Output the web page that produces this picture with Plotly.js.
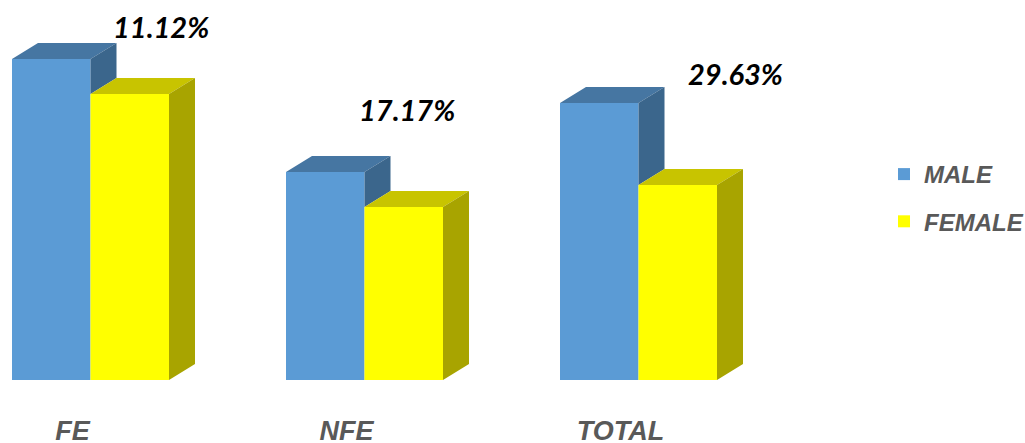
<!DOCTYPE html>
<html><head><meta charset="utf-8">
<script src="https://cdn.plot.ly/plotly-3.0.1.min.js"></script>
<style>html,body{margin:0;padding:0;background:#fff;overflow:hidden}</style>
</head><body><div id="chart" style="width:1025px;height:443px"></div>
<script>
const categories = ["FE", "NFE", "TOTAL"];
const maleValues = [32.1, 20.8, 27.7];
const femaleValues = [28.6, 17.3, 19.5];
const gapLabels = ["11.12%", "17.17%", "29.63%"];

const W = 1025, H = 443, BASE = 380, STEP = 274, ORIGIN = 90.5;
const unitX = 1 / STEP, unitY = 0.1;
const dx = 26 * unitX, dy = 16 * unitY, bw = 78.5 * unitX;
const idx = categories.map((_, i) => i);

function poly(pts, color) {
  return {type: "scatter", mode: "lines", x: pts.map(p => p[0]), y: pts.map(p => p[1]),
    fill: "toself", fillcolor: color, line: {width: 0, color: color},
    hoverinfo: "skip", showlegend: false, cliponaxis: false};
}
const faces = [];
idx.forEach(i => {
  const m = maleValues[i], f = femaleValues[i];
  faces.push(poly([[i - bw, m], [i, m], [i + dx, m + dy], [i - bw + dx, m + dy], [i - bw, m]], "#4676A2"));
  faces.push(poly([[i, m], [i + dx, m + dy], [i + dx, f + dy], [i, f], [i, m]], "#3B668C"));
  faces.push(poly([[i, f], [i + bw, f], [i + bw + dx, f + dy], [i + dx, f + dy], [i, f]], "#C8C400"));
  faces.push(poly([[i + bw, f], [i + bw + dx, f + dy], [i + bw + dx, dy], [i + bw, 0], [i + bw, f]], "#A8A400"));
});

const traces = [
  {type: "bar", name: "MALE", x: idx, y: maleValues, marker: {color: "#5B9BD5"}, legendgroup: "a", hoverinfo: "name+y"},
  {type: "bar", name: "FEMALE", x: idx, y: femaleValues, marker: {color: "#FFFF00"}, legendgroup: "b", hoverinfo: "name+y"}
].concat(faces);

const labelPos = [[160.5, 26], [407, 109], [735.5, 73]];
const annotations = gapLabels.map((t, i) => ({
  text: t, showarrow: false, xref: "x", yref: "y",
  x: (labelPos[i][0] - ORIGIN) * unitX, y: (BASE - labelPos[i][1]) * unitY,
  font: {family: "Lato, 'Open Sans', sans-serif", size: 29, color: "#000", weight: 700, style: "italic"}
}));

const layout = {
  width: W, height: H, paper_bgcolor: "#fff", plot_bgcolor: "#fff",
  margin: {l: 0, r: 0, t: 0, b: H - BASE, pad: 0, autoexpand: false},
  barmode: "group", bargap: 1 - 2 * bw, bargroupgap: 0, showlegend: true,
  xaxis: {range: [-ORIGIN * unitX, (W - ORIGIN) * unitX], showgrid: false, zeroline: false, showline: false,
    tickmode: "array", tickvals: idx.map(i => i - 18 * unitX), ticktext: categories,
    ticks: "outside", ticklen: 27, tickcolor: "rgba(0,0,0,0)",
    tickfont: {family: "'Liberation Sans', sans-serif", size: 27, color: "#595959", style: "italic", weight: 700}},
  yaxis: {range: [0, BASE * unitY], visible: false, fixedrange: true},
  legend: {x: 884 / W, y: (BASE - 152) / BASE, xref: "paper", yref: "paper", xanchor: "left", yanchor: "top",
    orientation: "v", traceorder: "grouped", tracegroupgap: 13, bgcolor: "rgba(0,0,0,0)", itemwidth: 30,
    font: {family: "'Liberation Sans', sans-serif", size: 24, color: "#595959", style: "italic", weight: 700}},
  annotations: annotations
};
Plotly.newPlot("chart", traces, layout, {displayModeBar: false});
</script></body></html>
